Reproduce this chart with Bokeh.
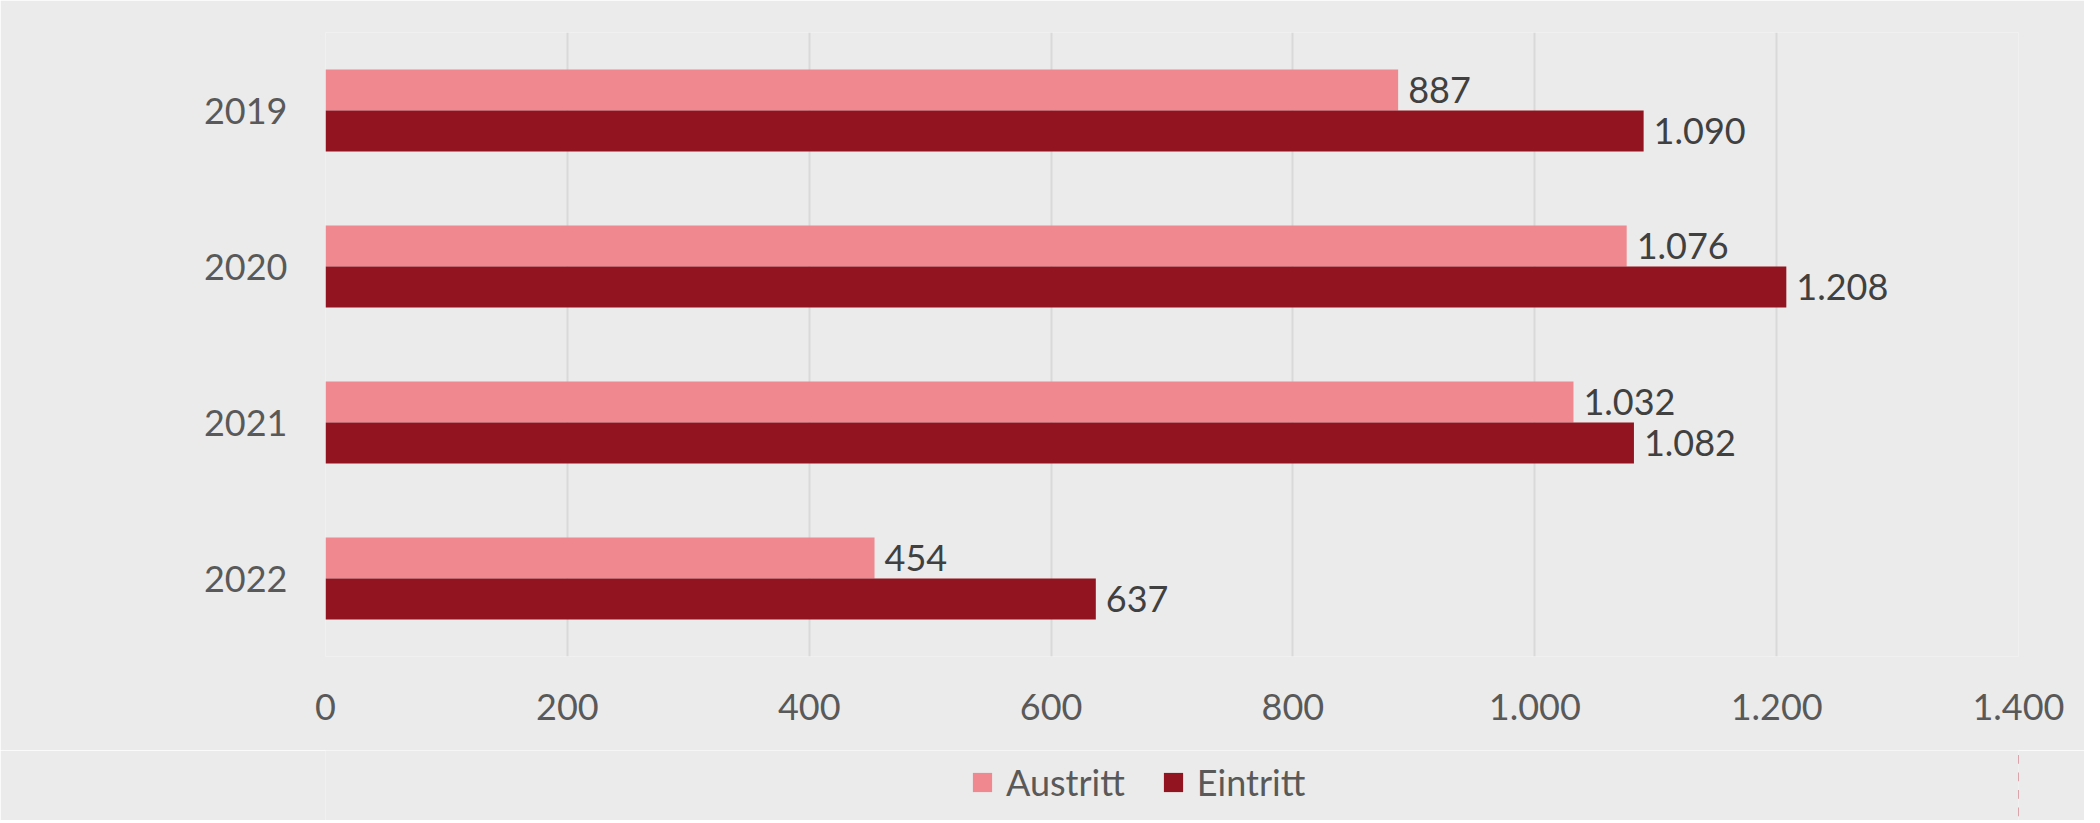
from bokeh.plotting import figure
from bokeh.layouts import column
from bokeh.models import (ColumnDataSource, FactorRange, Range1d, FixedTicker,
                          Legend, LegendItem)
from bokeh.transform import dodge
from bokeh.core.properties import value
from bokeh.embed import file_html
from bokeh.resources import INLINE

# ---- data ----
years = ["2019", "2020", "2021", "2022"]
austritt = [887, 1076, 1032, 454]
eintritt = [1090, 1208, 1082, 637]
series_names = ["Austritt", "Eintritt"]
x_ticks = [0, 200, 400, 600, 800, 1000, 1200, 1400]
x_tick_labels = ["0", "200", "400", "600", "800", "1.000", "1.200", "1.400"]


def de_fmt(v):
    return f"{v:,}".replace(",", ".")


PINK = "#F0888F"
DARK = "#921420"
BG = "#EBEBEB"
FONT = "Lato"

source = ColumnDataSource(dict(
    year=years,
    aus=austritt,
    ein=eintritt,
    aus_lbl=[de_fmt(v) for v in austritt],
    ein_lbl=[de_fmt(v) for v in eintritt],
))

# ---- main chart ----
p = figure(
    width=2084, height=750,
    y_range=FactorRange(factors=list(reversed(years))),
    x_range=Range1d(0, 1400),
    output_backend="svg", toolbar_location=None,
    min_border_left=325, min_border_right=66,
    min_border_top=32, min_border_bottom=94,
)
p.background_fill_color = BG
p.border_fill_color = BG
p.outline_line_color = None

off = 0.1315
h = 0.263
p.hbar(y=dodge("year", off, range=p.y_range), right="aus", left=0, height=h,
       fill_color=PINK, line_color=None, source=source)
p.hbar(y=dodge("year", -off, range=p.y_range), right="ein", left=0, height=h,
       fill_color=DARK, line_color=None, source=source)

common = dict(text_baseline="middle", text_align="left", text_font_size="36px",
              text_color="#404040", text_font=value(FONT), x_offset=10, source=source)
p.text(x="aus", y=dodge("year", off, range=p.y_range), text="aus_lbl", **common)
p.text(x="ein", y=dodge("year", -off, range=p.y_range), text="ein_lbl", **common)

p.xaxis.ticker = FixedTicker(ticks=x_ticks)
p.xaxis.major_label_overrides = {t: l for t, l in zip(x_ticks, x_tick_labels)}
for ax in (p.xaxis, p.yaxis):
    ax.axis_line_color = None
    ax.major_tick_line_color = None
    ax.minor_tick_line_color = None
    ax.major_tick_out = 0
    ax.major_tick_in = 0
    ax.major_label_text_font = FONT
    ax.major_label_text_font_size = "36px"
    ax.major_label_text_color = "#595959"
p.xaxis.major_label_standoff = 37
p.yaxis.major_label_standoff = 38

p.xgrid.grid_line_color = "#D9D9D9"
p.xgrid.grid_line_width = 2
p.ygrid.grid_line_color = None

# ---- legend strip (separate figure so the legend is not clipped) ----
pl = figure(
    width=2084, height=70, x_range=Range1d(-2, -1),
    y_range=FactorRange(factors=list(reversed(years))),
    output_backend="svg", toolbar_location=None,
    min_border_left=0, min_border_right=0, min_border_top=0, min_border_bottom=0,
)
pl.axis.visible = False
pl.grid.visible = False
pl.outline_line_color = None
pl.background_fill_color = BG
pl.border_fill_color = BG

# same series, drawn outside the strip's visible x range; only their legend shows
l1 = pl.hbar(y="year", right="aus", left=0, height=0.5, fill_color=PINK,
             line_color=None, source=source)
l2 = pl.hbar(y="year", right="ein", left=0, height=0.5, fill_color=DARK,
             line_color=None, source=source)

legend = Legend(
    items=[LegendItem(label=series_names[0], renderers=[l1]),
           LegendItem(label=series_names[1], renderers=[l2])],
    orientation="horizontal", location=(645, 16),
    glyph_width=24, glyph_height=24, label_height=24, label_standoff=12, spacing=36,
    padding=0, margin=0, border_line_color=None, background_fill_alpha=0,
    label_text_font=FONT, label_text_font_size="36px", label_text_color="#595959",
)
pl.add_layout(legend, "center")

layout = column(p, pl, spacing=0)
open("out.html", "w").write(file_html(layout, INLINE))
